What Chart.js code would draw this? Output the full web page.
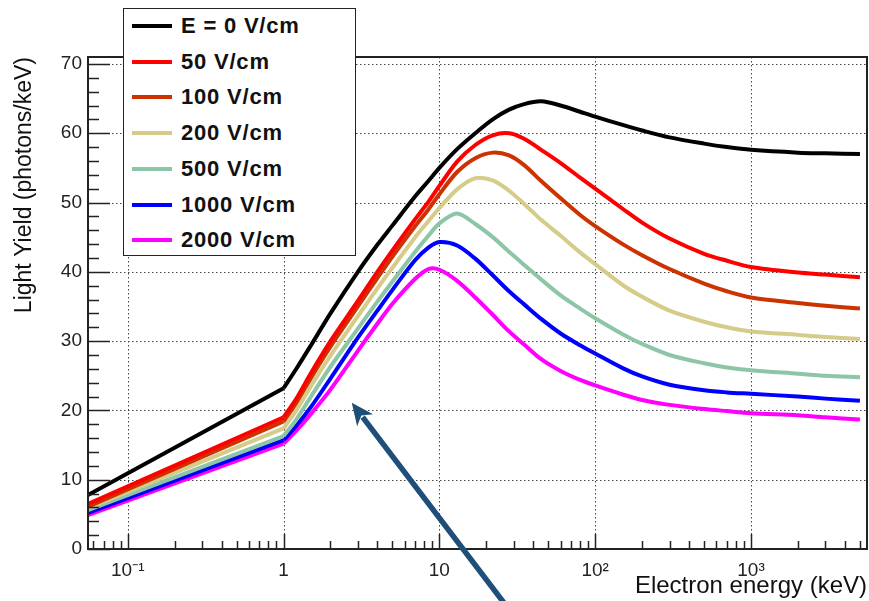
<!DOCTYPE html>
<html>
<head>
<meta charset="utf-8">
<script src="https://cdn.jsdelivr.net/npm/chart.js@4.4.1/dist/chart.umd.min.js"></script>
<style>
html,body{margin:0;padding:0;background:#fff;}
#wrap{position:relative;width:869px;height:601px;overflow:hidden;}
#c{position:absolute;left:0;top:0;}
#legend{position:absolute;left:123px;top:8px;width:231px;height:246px;border:1.5px solid #222;background:#fff;
  font-family:"Liberation Sans",Arial,sans-serif;font-weight:bold;font-size:22px;letter-spacing:0.8px;color:#111;}
#legend .sw{position:absolute;left:8px;width:40px;height:4px;transform:translateY(-50%);}
#legend .lb{position:absolute;left:57px;white-space:nowrap;line-height:1;transform:translateY(-50%);}
</style>
</head>
<body>
<div id="wrap">
<canvas id="c" width="869" height="601"></canvas>
<div id="legend"></div>
</div>
<script>
// ---- data ----
const energies = [0.0556, 1, 1.2, 1.5, 2, 3, 4, 5, 7, 8.5, 10, 13, 17, 22, 28, 35, 45, 60, 80, 100, 150, 200, 300, 500, 700, 1000, 2000, 3000, 5000];
const seriesLabels = ['E = 0 V/cm', '50 V/cm', '100 V/cm', '200 V/cm', '500 V/cm', '1000 V/cm', '2000 V/cm'];
const seriesColors = ['#000000', '#ff0000', '#cc3300', '#d4cc88', '#8cc6a6', '#0000ff', '#ff00ff'];
const yield0V    = [7.8, 23.2, 25.9, 29.4, 34.0, 40.0, 43.9, 46.7, 50.9, 53.1, 55.0, 57.7, 60.0, 62.0, 63.4, 64.2, 64.6, 64.0, 63.1, 62.4, 61.2, 60.4, 59.4, 58.5, 58.0, 57.6, 57.2, 57.1, 57.0];
const yield50V   = [6.5, 19.0, 21.6, 25.4, 30.0, 35.8, 40.0, 43.1, 47.6, 50.1, 52.4, 55.9, 58.3, 59.7, 60.0, 59.2, 57.6, 55.7, 53.6, 52.0, 49.1, 47.1, 44.8, 42.6, 41.6, 40.7, 39.9, 39.6, 39.2];
const yield100V  = [6.1, 18.4, 21.0, 24.7, 29.2, 35.0, 39.1, 42.2, 46.6, 49.0, 51.2, 54.4, 56.4, 57.2, 56.8, 55.4, 53.1, 50.6, 48.2, 46.6, 44.0, 42.4, 40.4, 38.3, 37.2, 36.3, 35.5, 35.1, 34.7];
const yield200V  = [5.9, 17.4, 19.9, 23.5, 27.9, 33.6, 37.6, 40.6, 45.0, 47.3, 49.2, 51.9, 53.5, 53.2, 51.7, 49.8, 47.5, 45.2, 42.8, 41.1, 38.1, 36.4, 34.4, 32.8, 32.0, 31.4, 30.9, 30.6, 30.3];
const yield500V  = [5.6, 16.3, 18.6, 22.0, 26.3, 31.8, 35.7, 38.6, 42.9, 45.2, 47.0, 48.4, 46.9, 45.0, 42.9, 41.0, 38.9, 36.6, 34.7, 33.3, 31.0, 29.6, 28.0, 26.8, 26.2, 25.8, 25.3, 25.0, 24.8];
const yield1000V = [5.2, 15.7, 17.7, 20.5, 24.6, 30.5, 34.4, 37.4, 41.7, 43.5, 44.3, 43.8, 41.9, 39.5, 37.2, 35.3, 33.2, 31.1, 29.4, 28.2, 26.1, 24.9, 23.7, 22.9, 22.6, 22.4, 22.0, 21.7, 21.4];
const yield2000V = [4.9, 15.2, 17.0, 19.5, 23.0, 28.6, 32.5, 35.4, 39.0, 40.4, 40.3, 38.7, 36.3, 33.8, 31.4, 29.5, 27.4, 25.7, 24.4, 23.6, 22.3, 21.5, 20.8, 20.2, 19.9, 19.6, 19.3, 19.0, 18.7];
const xTickValues = [0.1, 1, 10, 100, 1000];
const xTickLabels = ['10\u207B\u00B9', '1', '10', '10\u00B2', '10\u00B3'];
const yTickValues = [0, 10, 20, 30, 40, 50, 60, 70];
const xTitle = 'Electron energy (keV)';
const yTitle = 'Light Yield (photons/keV)';
const arrowTip = [2.74, 21.1];   // data coords (keV, yield)
const arrowTail = [27.5, -8.5];
const kneeEnergy = 1;            // below it the curves are straight in log(E)

const allSeries = [yield0V, yield50V, yield100V, yield200V, yield500V, yield1000V, yield2000V];

const FONT = '"Liberation Sans", Arial, sans-serif';

const framePlugin = {
  id: 'frame',
  beforeDatasetsDraw(chart) {
    const {ctx, chartArea: a, scales: {x, y}} = chart;
    ctx.save();
    ctx.strokeStyle = '#444';
    ctx.lineWidth = 1;
    ctx.setLineDash([1.5, 2.5]);
    xTickValues.forEach(v => {
      const px = Math.round(x.getPixelForValue(v)) + 0.5;
      ctx.beginPath(); ctx.moveTo(px, a.top); ctx.lineTo(px, a.bottom); ctx.stroke();
    });
    yTickValues.forEach(v => {
      if (v <= 0) return;
      const py = Math.round(y.getPixelForValue(v)) + 0.5;
      ctx.beginPath(); ctx.moveTo(a.left, py); ctx.lineTo(a.right, py); ctx.stroke();
    });
    ctx.restore();
  },
  afterDatasetsDraw(chart) {
    const {ctx, chartArea: a, scales: {x, y}} = chart;
    ctx.save();
    ctx.setLineDash([]);
    ctx.strokeStyle = '#222';
    ctx.lineWidth = 1.5;
    for (let d = -2; d <= 3; d++) {
      for (let m = 1; m <= 9; m++) {
        const v = m * Math.pow(10, d);
        if (v < x.min || v > x.max) continue;
        const px = Math.round(x.getPixelForValue(v)) + 0.5;
        const len = m === 1 ? 15 : 8;
        ctx.beginPath(); ctx.moveTo(px, a.bottom); ctx.lineTo(px, a.bottom - len); ctx.stroke();
      }
    }
    for (let v = 0; v <= y.max; v += 2) {
      const py = Math.round(y.getPixelForValue(v)) + 0.5;
      const len = v % 10 === 0 ? 22 : 11;
      ctx.beginPath(); ctx.moveTo(a.left, py); ctx.lineTo(a.left + len, py); ctx.stroke();
    }
    ctx.lineWidth = 2;
    ctx.strokeRect(a.left, a.top, a.right - a.left, a.bottom - a.top);
    ctx.restore();
  },
  afterDraw(chart) {
    const {ctx, scales: {x, y}} = chart;
    const tx = x.getPixelForValue(arrowTip[0]), ty = y.getPixelForValue(arrowTip[1]);
    const sx = x.getPixelForValue(arrowTail[0]), sy = y.getPixelForValue(arrowTail[1]);
    const ang = Math.atan2(ty - sy, tx - sx);
    const headLen = 22, headW = 10;
    const bx = tx - headLen * Math.cos(ang), by = ty - headLen * Math.sin(ang);
    ctx.save();
    ctx.strokeStyle = '#1f4e79';
    ctx.fillStyle = '#1f4e79';
    ctx.lineWidth = 5.5;
    ctx.beginPath(); ctx.moveTo(sx, sy); ctx.lineTo(bx + 4 * Math.cos(ang), by + 4 * Math.sin(ang)); ctx.stroke();
    ctx.beginPath();
    ctx.moveTo(tx, ty);
    ctx.lineTo(bx + headW * Math.sin(ang), by - headW * Math.cos(ang));
    ctx.lineTo(tx - headLen * 0.72 * Math.cos(ang), ty - headLen * 0.72 * Math.sin(ang));
    ctx.lineTo(bx - headW * Math.sin(ang), by + headW * Math.cos(ang));
    ctx.closePath(); ctx.fill();
    ctx.restore();
  }
};

// each series: a straight low-energy part and a smooth part above the knee
const datasets = [];
allSeries.forEach((vals, i) => {
  const pts = energies.map((e, j) => ({x: e, y: vals[j]}));
  const base = {label: seriesLabels[i], borderColor: seriesColors[i], backgroundColor: seriesColors[i],
                borderWidth: 4, pointRadius: 0, fill: false, borderJoinStyle: 'round'};
  datasets.push(Object.assign({}, base, {data: pts.filter(p => p.x <= kneeEnergy), tension: 0}));
  datasets.push(Object.assign({}, base, {data: pts.filter(p => p.x >= kneeEnergy), tension: 0.3}));
});

new Chart(document.getElementById('c'), {
  type: 'line',
  data: {datasets},
  options: {
    responsive: false,
    animation: false,
    devicePixelRatio: 1,
    layout: {padding: {top: 57, right: 2, left: 0, bottom: 0}},
    plugins: {legend: {display: false}, tooltip: {enabled: false}},
    scales: {
      x: {
        type: 'logarithmic',
        min: 0.0556, max: 5550,
        grid: {display: false, drawTicks: false},
        border: {display: false},
        afterBuildTicks: s => { s.ticks = xTickValues.map(v => ({value: v})); },
        afterFit: s => { s.height = 52; },
        ticks: {
          autoSkip: false, maxRotation: 0, padding: 10, color: '#222',
          font: {family: FONT, size: 19},
          callback: (v) => { const k = xTickValues.indexOf(v); return k >= 0 ? xTickLabels[k] : ''; }
        },
        title: {display: true, text: xTitle, align: 'end', color: '#111',
          font: {family: FONT, size: 24}, padding: {top: 0, bottom: 0}}
      },
      y: {
        type: 'linear',
        min: 0, max: 71,
        grid: {display: false, drawTicks: false},
        border: {display: false},
        afterBuildTicks: s => { s.ticks = yTickValues.map(v => ({value: v})); },
        afterFit: s => { s.width = 88; },
        ticks: {padding: 6, color: '#222', font: {family: FONT, size: 19}},
        title: {display: true, text: yTitle, align: 'end', color: '#111',
          font: {family: FONT, size: 23}, padding: {top: 11, bottom: 0}}
      }
    }
  },
  plugins: [framePlugin]
});

const lg = document.getElementById('legend');
seriesLabels.forEach((t, i) => {
  const cy = 17 + i * 35.7;
  const sw = document.createElement('div');
  sw.className = 'sw'; sw.style.top = cy + 'px'; sw.style.background = seriesColors[i];
  const lb = document.createElement('div');
  lb.className = 'lb'; lb.style.top = cy + 'px'; lb.textContent = t;
  lg.appendChild(sw); lg.appendChild(lb);
});
</script>
</body>
</html>
